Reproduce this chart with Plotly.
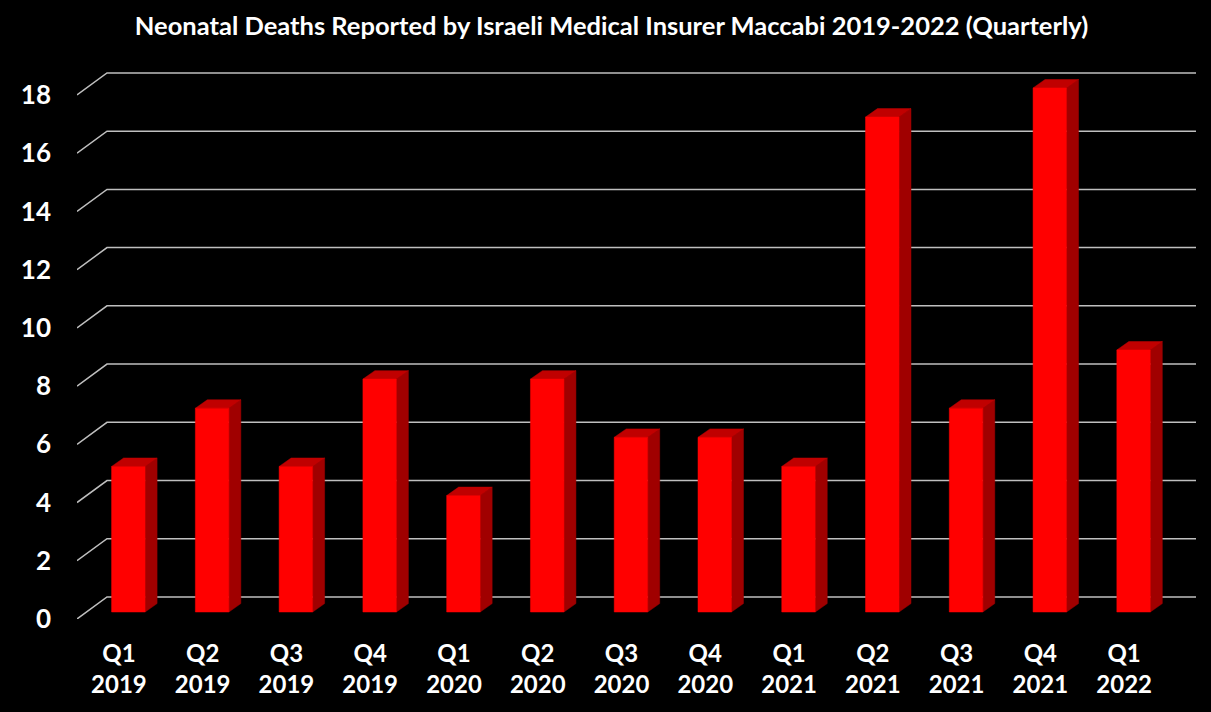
import plotly.graph_objects as go

# data
quarters = ["Q1<br>2019", "Q2<br>2019", "Q3<br>2019", "Q4<br>2019",
            "Q1<br>2020", "Q2<br>2020", "Q3<br>2020", "Q4<br>2020",
            "Q1<br>2021", "Q2<br>2021", "Q3<br>2021", "Q4<br>2021",
            "Q1<br>2022"]
deaths = [5, 7, 5, 8, 4, 8, 6, 6, 5, 17, 7, 18, 9]
y_ticks = [0, 2, 4, 6, 8, 10, 12, 14, 16, 18]

# fake 3d: oblique offset of the back wall (axis units)
wall_dx, wall_dy = 0.358, 0.756
# bar front face position in depth, and bar depth
face_dx, face_dy = 0.113, 0.24
bar_dx, bar_dy = 0.143, 0.29
half_w = 0.2

n = len(deaths)
x_right = n - 0.5 + wall_dx

fig = go.Figure()

# grid on back wall + diagonal to front
gx, gy = [], []
for v in y_ticks:
    gx += [-0.5, -0.5 + wall_dx, x_right, None]
    gy += [v, v + wall_dy, v + wall_dy, None]
fig.add_trace(go.Scatter(x=gx, y=gy, mode="lines",
                         line=dict(color="#BFBFBF", width=1.5),
                         hoverinfo="skip"))

# bar faces
fx, fy, sx, sy, tx, ty = [], [], [], [], [], []
for i, v in enumerate(deaths):
    x0 = i + face_dx - half_w
    x1 = i + face_dx + half_w
    y0 = face_dy
    y1 = v + face_dy
    fx += [x0, x1, x1, x0, x0, None]
    fy += [y0, y0, y1, y1, y0, None]
    sx += [x1, x1 + bar_dx, x1 + bar_dx, x1, x1, None]
    sy += [y0, y0 + bar_dy, y1 + bar_dy, y1, y0, None]
    tx += [x0, x1, x1 + bar_dx, x0 + bar_dx, x0, None]
    ty += [y1, y1, y1 + bar_dy, y1 + bar_dy, y1, None]

for xs, ys, col in [(sx, sy, "#A00000"), (tx, ty, "#C00000"), (fx, fy, "#FF0000")]:
    fig.add_trace(go.Scatter(x=xs, y=ys, mode="lines", fill="toself",
                             fillcolor=col, line=dict(color=col, width=0.5),
                             hoverinfo="skip"))

# style plot
fig.update_layout(
    width=1211, height=712,
    paper_bgcolor="black",
    plot_bgcolor="black",
    showlegend=False,
    margin=dict(l=77, r=15, t=60, b=93),
    font=dict(family="Lato", color="white"),
    title=dict(
        text="<b>Neonatal Deaths Reported by Israeli Medical Insurer Maccabi 2019-2022 (Quarterly)</b>",
        x=0.505, xanchor="center", y=1 - 26 / 712, yanchor="middle",
        font=dict(size=25.5, color="white", family="Lato"),
    ),
    xaxis=dict(
        range=[-0.5, x_right],
        tickvals=list(range(n)),
        ticktext=["<b>%s</b>" % q.replace("<br>", "</b><br><b>") for q in quarters],
        tickfont=dict(size=24, color="white"),
        showgrid=False, zeroline=False, showline=False,
        ticks="", ticklabelstandoff=18,
        fixedrange=True,
    ),
    yaxis=dict(
        range=[0, 19.2],
        tickvals=y_ticks,
        ticktext=["<b>%d</b>" % v for v in y_ticks],
        tickfont=dict(size=26, color="white"),
        showgrid=False, zeroline=False, showline=False,
        ticks="", ticklabelstandoff=25,
        fixedrange=True,
    ),
)

fig.write_html("out.html", config=dict(displayModeBar=False),
               post_script="document.body.style.margin='0';")
